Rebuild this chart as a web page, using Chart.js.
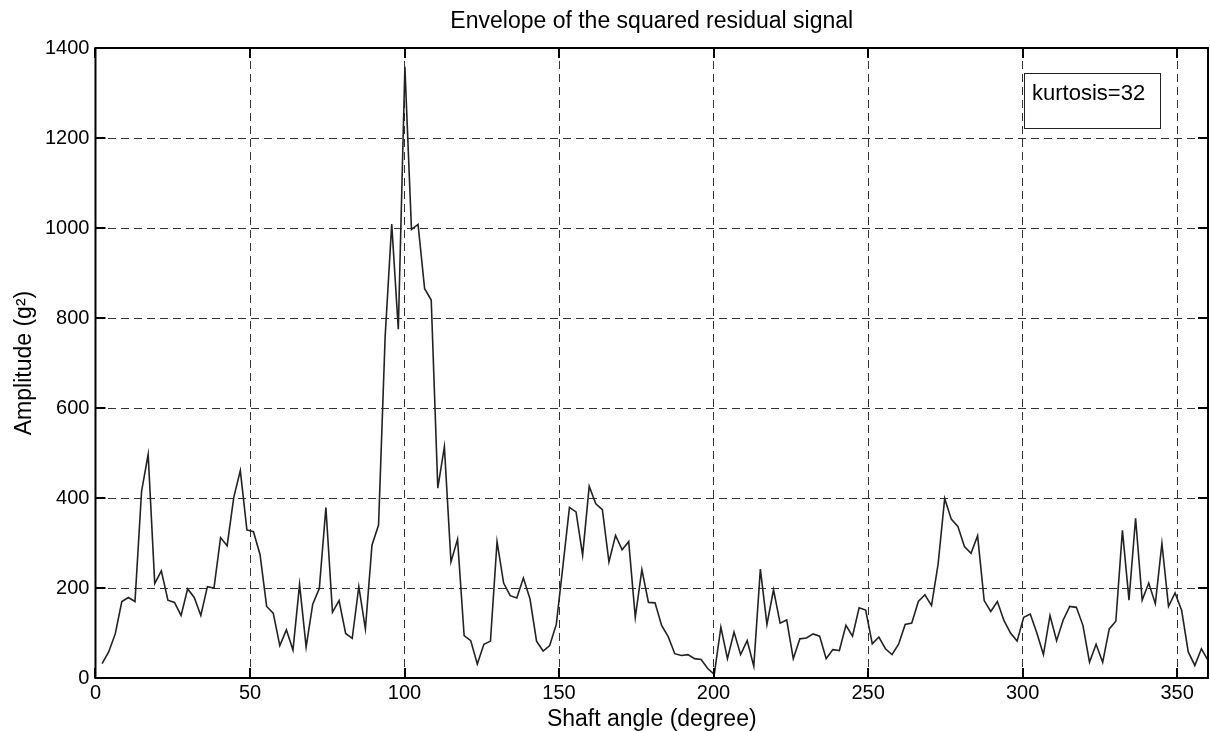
<!DOCTYPE html>
<html>
<head>
<meta charset="utf-8">
<script src="https://cdn.jsdelivr.net/npm/chart.js@4"></script>
<style>
  html, body { margin: 0; padding: 0; background: #fff; }
  #wrap { width: 1210px; height: 731px; }
</style>
</head>
<body>
<div id="wrap"><canvas id="envChart" width="1210" height="731"></canvas></div>
<script>
// Envelope samples, one per angle step over a full shaft turn
const sampleCount = 169;
const angleStep = 360 / sampleCount;
const amplitude = [
  32, 58, 98, 170, 179, 170, 415, 497, 210, 238,
  173, 168, 139, 198, 179, 139, 203, 200, 312, 294,
  401, 461, 329, 325, 274, 159, 144, 72, 107, 62,
  208, 69, 164, 199, 379, 146, 172, 99, 88, 203,
  109, 295, 340, 758, 1009, 775, 1358, 997, 1008, 865,
  840, 422, 514, 258, 308, 94, 83, 31, 75, 82,
  303, 211, 183, 178, 222, 176, 82, 60, 72, 119,
  248, 379, 369, 273, 426, 387, 374, 258, 317, 285,
  303, 135, 241, 168, 167, 117, 92, 54, 50, 52,
  43, 41, 21, 8, 113, 43, 102, 52, 83, 26,
  242, 119, 196, 122, 129, 43, 87, 89, 98, 93,
  43, 63, 61, 117, 93, 156, 151, 76, 91, 65,
  52, 75, 119, 122, 170, 185, 161, 253, 399, 353,
  337, 292, 277, 316, 172, 148, 170, 128, 100, 82,
  135, 142, 100, 52, 139, 83, 129, 159, 157, 117,
  35, 75, 35, 109, 126, 328, 173, 355, 173, 211,
  165, 299, 159, 189, 150, 58, 28, 65, 39
];
const angles = amplitude.map((_, i) => (i + 1) * angleStep);

const xTicks = [0, 50, 100, 150, 200, 250, 300, 350];
const yTicks = [0, 200, 400, 600, 800, 1000, 1200, 1400];
const titleText = "Envelope of the squared residual signal";
const kurtosisText = "kurtosis=32";

const FONT = "'Liberation Sans', Arial, sans-serif";

// title over the plot area, box around the axes, inward ticks, kurtosis note
const framePlugin = {
  id: "frame",
  afterDraw(chart) {
    const { ctx, chartArea: a, scales: { x, y } } = chart;
    ctx.save();

    ctx.fillStyle = "#000";
    ctx.font = "23px " + FONT;
    ctx.textAlign = "center";
    ctx.textBaseline = "middle";
    ctx.fillText(titleText, (a.left + a.right) / 2, 22);

    ctx.strokeStyle = "#000";
    ctx.lineWidth = 2;
    ctx.setLineDash([]);
    ctx.strokeRect(a.left, a.top, a.right - a.left, a.bottom - a.top);

    const tl = 10;
    ctx.beginPath();
    xTicks.forEach(v => {
      const px = Math.round(x.getPixelForValue(v));
      ctx.moveTo(px, a.bottom); ctx.lineTo(px, a.bottom - tl);
      ctx.moveTo(px, a.top); ctx.lineTo(px, a.top + tl);
    });
    yTicks.forEach(v => {
      const py = Math.round(y.getPixelForValue(v));
      ctx.moveTo(a.left, py); ctx.lineTo(a.left + tl, py);
      ctx.moveTo(a.right, py); ctx.lineTo(a.right - tl, py);
    });
    ctx.stroke();

    // kurtosis box, upper right
    const bx = a.right - 184, by = a.top + 25, bw = 136, bh = 55;
    ctx.fillStyle = "#fff";
    ctx.fillRect(bx, by, bw, bh);
    ctx.lineWidth = 1;
    ctx.strokeStyle = "#222";
    ctx.strokeRect(bx + 0.5, by + 0.5, bw, bh);
    ctx.fillStyle = "#000";
    ctx.font = "22px " + FONT;
    ctx.textAlign = "left";
    ctx.textBaseline = "alphabetic";
    ctx.fillText(kurtosisText, bx + 8, by + 27);
    ctx.restore();
  }
};

new Chart(document.getElementById("envChart"), {
  type: "line",
  data: {
    labels: angles,
    datasets: [{
      data: amplitude,
      borderColor: "#222",
      borderWidth: 1.6,
      pointRadius: 0,
      tension: 0,
      fill: false
    }]
  },
  options: {
    responsive: false,
    animation: false,
    devicePixelRatio: 1,
    layout: { padding: { left: 5, right: 2, top: 48, bottom: 0 } },
    plugins: {
      legend: { display: false },
      tooltip: { enabled: false },
      title: { display: false }
    },
    scales: {
      x: {
        type: "linear",
        min: 0,
        max: 360,
        afterBuildTicks: s => { s.ticks = xTicks.map(v => ({ value: v })); },
        grid: { color: "#333", lineWidth: 1, drawTicks: false },
        border: { display: false, dash: [8, 5] },
        ticks: {
          color: "#000", padding: 5, maxRotation: 0,
          font: { family: FONT, size: 20, lineHeight: 1 },
          callback: v => String(v)
        },
        title: {
          display: true,
          text: "Shaft angle (degree)",
          color: "#000",
          font: { family: FONT, size: 23, lineHeight: 1 },
          padding: { top: 0, bottom: 0 }
        }
      },
      y: {
        min: 0,
        max: 1400,
        afterBuildTicks: s => { s.ticks = yTicks.map(v => ({ value: v })); },
        grid: { color: "#333", lineWidth: 1, drawTicks: false },
        border: { display: false, dash: [8, 5] },
        ticks: {
          color: "#000", padding: 6,
          font: { family: FONT, size: 20 },
          callback: v => String(v)
        },
        title: {
          display: true,
          text: "Amplitude (g²)",
          color: "#000",
          font: { family: FONT, size: 23, lineHeight: 1 },
          padding: { top: 8, bottom: 3 }
        }
      }
    }
  },
  plugins: [framePlugin]
});
</script>
</body>
</html>
